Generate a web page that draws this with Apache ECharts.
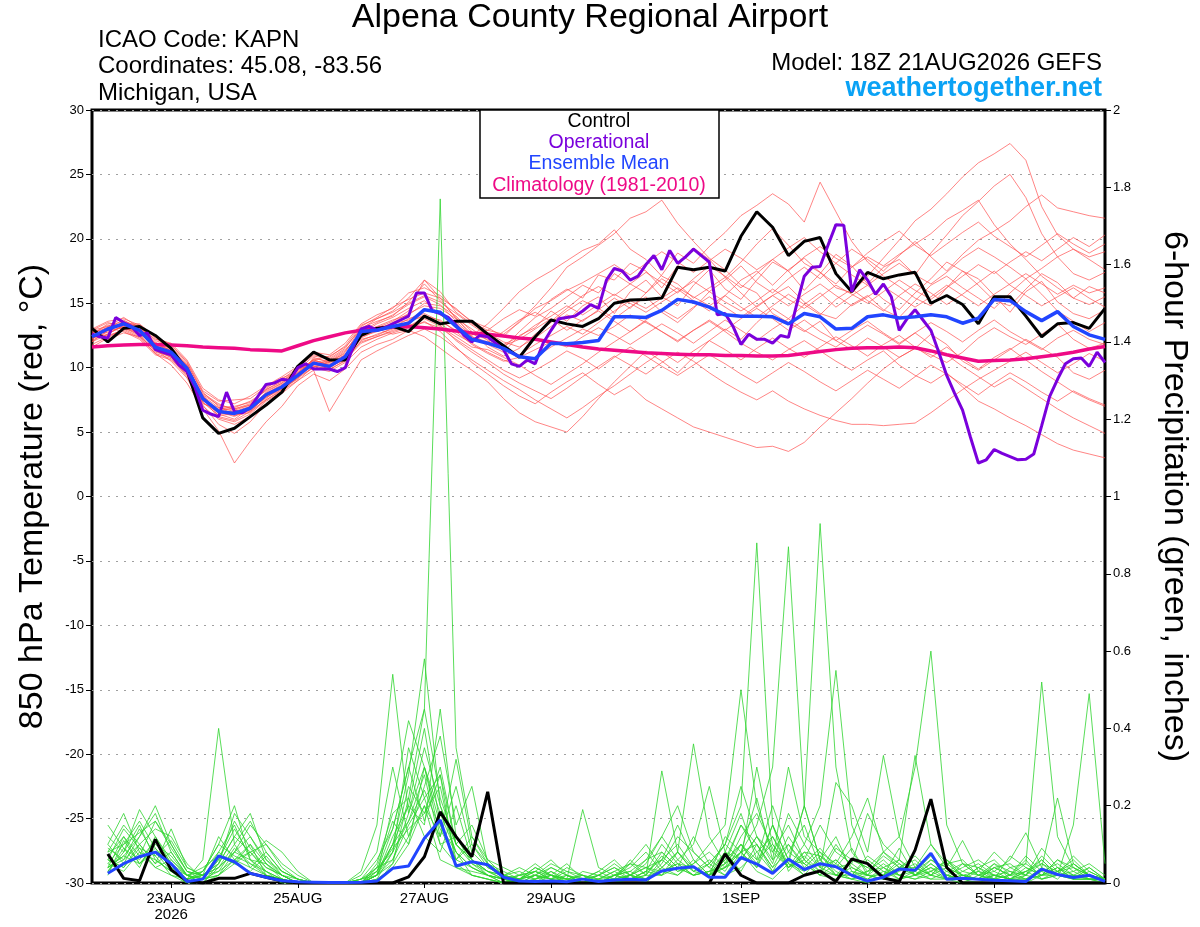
<!DOCTYPE html>
<html lang="en">
<head>
    <meta charset="UTF-8">
    <title>Alpena County Regional Airport - GEFS</title>
    <script src="https://cdn.jsdelivr.net/npm/echarts@6.0.0/dist/echarts.min.js"></script>
    <style>
        body { margin: 0; background: #fff; }
    </style>
</head>
<body>
    <div id="chart" style="width: 1200px; height: 927px;"></div>

    <script>
        // x axis is forecast hours from 18Z 21AUG2026
        var tickHours = [30, 78, 126, 174, 246, 294, 342];
        var tickLabels = ['23AUG\n2026', '25AUG', '27AUG', '29AUG', '1SEP', '3SEP', '5SEP'];

        // 850 hPa temperature, 6-hourly (hour 0..384)
        var climatology = [11.6, 11.7, 11.75, 11.8, 11.8, 11.75, 11.7, 11.6, 11.55, 11.5, 11.4, 11.35, 11.3, 11.7, 12.1, 12.4, 12.7,
            12.9, 13.05, 13.15, 13.2, 13.1, 13.0, 12.85, 12.7, 12.6, 12.45, 12.3, 12.2, 12.0, 11.8, 11.6, 11.45,
            11.35, 11.25, 11.15, 11.1, 11.05, 11.0, 11.0, 10.95, 10.95, 10.9, 10.9, 10.95, 11.1, 11.25, 11.4, 11.5,
            11.55, 11.55, 11.6, 11.55, 11.3, 11.0, 10.75, 10.5, 10.55, 10.6, 10.7, 10.85, 11.0, 11.2, 11.45, 11.65];
        var controlTemp = [13.05, 12.0, 13.05, 13.2, 12.5, 11.5, 9.8, 6.1, 4.9, 5.3, 6.2, 7.1, 8.1, 10.1, 11.2, 10.6, 10.6,
            12.5, 13.05, 13.2, 12.8, 14.0, 13.4, 13.6, 13.6, 12.6, 11.7, 10.8, 12.4, 13.7, 13.4, 13.2, 13.8,
            15.0, 15.25, 15.3, 15.4, 17.8, 17.6, 17.8, 17.5, 20.2, 22.1, 20.9, 18.7, 19.8, 20.1, 17.3, 15.9,
            17.4, 16.9, 17.2, 17.4, 15.0, 15.6, 14.9, 13.4, 15.5, 15.5, 14.0, 12.4, 13.4, 13.5, 13.05, 14.6];
        var meanTemp = [12.4, 13.0, 13.4, 12.9, 11.6, 11.2, 9.95, 7.6, 6.6, 6.45, 6.85, 7.9, 8.5, 9.4, 10.35, 10.1, 10.85,
            12.8, 12.9, 13.2, 13.45, 14.5, 14.3, 13.2, 12.2, 11.9, 11.5, 10.85, 10.7, 11.9, 11.85, 11.95, 12.1,
            13.95, 13.95, 13.9, 14.45, 15.3, 15.1, 14.7, 14.1, 14.0, 14.0, 13.95, 13.4, 14.2, 13.95, 13.0, 13.05,
            13.95, 14.1, 13.85, 13.95, 14.1, 13.95, 13.45, 13.85, 15.3, 15.2, 14.35, 13.65, 14.35, 13.2, 12.55, 12.2];
        // operational run is 3-hourly (hour 0..384)
        var operationalTemp = [12.6, 12.4, 12.3, 13.9, 13.5, 13.2, 12.5, 12.7, 11.4, 11.2, 11.0, 10.2, 9.7, 8.5, 6.7, 6.4,
            6.2, 8.1, 6.6, 6.5, 6.9, 7.8, 8.7, 8.8, 9.1, 9.0, 10.0, 10.3, 9.9, 9.9, 9.9, 9.7,
            10.0, 11.6, 13.0, 13.2, 12.9, 13.1, 13.4, 13.7, 14.0, 15.8, 15.8, 14.4, 14.2, 13.9, 13.3, 12.5,
            12.0, 12.5, 12.4, 11.9, 11.4, 10.3, 10.1, 10.6, 10.3, 11.9, 12.9, 13.8, 13.9, 14.0, 14.4, 14.9,
            14.6, 16.8, 17.7, 17.5, 16.8, 17.1, 18.0, 18.7, 17.6, 19.1, 18.1, 18.6, 19.2, 18.7, 18.2, 14.1,
            14.2, 13.2, 11.8, 12.6, 12.2, 12.2, 11.9, 12.5, 12.35, 14.8, 17.1, 17.8, 17.85, 19.5, 21.1, 21.05,
            15.9, 17.6, 16.8, 15.7, 16.5, 15.5, 12.9, 13.8, 14.5, 13.7, 12.9, 11.2, 9.4, 8.0, 6.7, 4.6,
            2.6, 2.85, 3.65, 3.35, 3.1, 2.85, 2.9, 3.3, 5.5, 7.75, 9.1, 10.3, 10.7, 10.75, 10.1, 11.2, 10.4];

        // ensemble members, temperature (red)
        var t01 = [12.1, 12.8, 13.6, 13.2, 12.0, 11.0, 9.6, 7.2, 6.8, 6.9, 7.4, 8.2, 8.8, 9.9, 10.2, 10.6, 11.4,
            12.6, 13.4, 13.9, 14.6, 15.2, 14.1, 13.2, 12.6, 12.9, 13.8, 14.5, 14.0, 15.3, 16.1, 15.4, 17.2,
            16.8, 18.1, 17.5, 16.2, 17.9, 19.3, 18.4, 17.0, 18.2, 19.6, 20.8, 19.5, 18.1, 17.4, 16.2, 15.8,
            17.1, 18.5, 19.9, 21.4, 22.3, 23.5, 24.8, 25.9, 26.6, 27.4, 26.1, 22.5, 20.3, 19.2, 18.6, 19.0];
        var t02 = [12.6, 13.3, 13.1, 12.5, 11.3, 10.8, 9.4, 7.9, 6.2, 5.9, 6.6, 7.8, 8.4, 9.1, 10.8, 10.4, 11.2,
            13.1, 13.6, 14.0, 15.1, 16.5, 15.2, 13.9, 12.4, 11.8, 11.2, 12.5, 13.1, 14.4, 13.6, 14.8, 15.5,
            14.2, 15.9, 16.8, 15.5, 14.8, 16.4, 17.6, 16.1, 15.3, 16.8, 18.2, 17.5, 16.0, 17.3, 18.8, 17.9,
            16.5, 17.8, 18.4, 17.2, 18.9, 20.3, 21.8, 22.9, 24.1, 25.0, 23.2, 20.4, 18.6, 17.3, 16.8, 17.4];
        var t03 = [12.9, 13.5, 13.2, 12.6, 11.8, 11.6, 10.3, 8.1, 7.0, 6.3, 6.5, 7.6, 8.6, 9.6, 10.5, 9.8, 10.6,
            12.3, 12.9, 13.5, 14.2, 14.8, 14.6, 13.8, 13.0, 12.1, 11.5, 12.8, 13.9, 14.6, 15.5, 16.4, 15.8,
            17.3, 16.5, 15.8, 17.2, 18.9, 18.1, 19.4, 20.5, 21.8, 22.6, 23.5, 22.7, 21.3, 24.4, 22.1, 19.8,
            18.2, 17.1, 16.3, 15.4, 14.8, 16.2, 17.5, 16.9, 15.6, 14.3, 15.9, 16.7, 15.1, 14.2, 13.8, 14.5];
        var t04 = [11.8, 12.4, 13.0, 13.1, 12.2, 11.9, 10.6, 8.4, 7.5, 7.2, 7.8, 8.6, 9.3, 10.1, 11.2, 11.0, 11.9,
            13.4, 14.1, 14.6, 15.8, 16.2, 15.6, 14.5, 13.6, 13.1, 12.4, 13.6, 14.8, 16.2, 17.8, 18.6, 19.5,
            20.4, 21.6, 22.1, 23.0, 21.2, 19.8, 18.5, 17.6, 16.4, 15.8, 14.2, 13.5, 12.8, 13.6, 12.1, 11.4,
            12.3, 11.6, 10.8, 11.5, 12.6, 11.8, 10.5, 9.8, 10.6, 11.4, 12.2, 11.5, 10.8, 9.6, 9.1, 9.8];
        var t05 = [12.3, 12.6, 13.3, 12.8, 11.4, 10.5, 9.2, 7.0, 6.0, 5.6, 6.2, 7.4, 8.1, 9.3, 10.0, 10.5, 11.1,
            12.2, 12.5, 13.1, 13.8, 14.2, 13.6, 12.9, 12.5, 13.4, 14.6, 15.9, 16.8, 17.5, 18.3, 19.1, 19.6,
            20.7, 19.2, 18.4, 17.1, 16.5, 15.4, 16.2, 17.0, 15.8, 14.7, 15.6, 16.3, 15.1, 14.2, 13.8, 14.9,
            15.6, 14.5, 13.9, 15.2, 16.4, 17.1, 16.2, 15.4, 14.6, 15.8, 16.9, 15.7, 14.4, 13.6, 12.8, 13.5];
        var t06 = [12.0, 12.9, 13.5, 13.0, 11.9, 11.3, 10.1, 7.8, 6.4, 6.0, 6.9, 8.0, 8.7, 9.5, 10.3, 10.0, 10.7,
            12.0, 12.4, 12.8, 13.2, 13.9, 13.4, 12.6, 11.9, 11.2, 10.6, 10.1, 10.8, 11.6, 12.3, 13.0, 12.5,
            13.2, 14.1, 13.5, 12.8, 12.1, 12.9, 13.6, 12.8, 11.9, 11.2, 10.6, 11.4, 12.1, 11.3, 10.5, 9.8,
            10.6, 11.3, 10.2, 9.4, 8.8, 9.6, 8.5, 7.4, 6.8, 6.1, 5.5, 4.8, 4.1, 3.6, 3.3, 3.0];
        var t07 = [12.7, 13.1, 12.8, 12.2, 11.0, 10.6, 9.5, 7.4, 6.9, 7.0, 7.3, 8.3, 9.0, 9.8, 10.6, 10.2, 10.9,
            12.5, 13.0, 12.6, 12.9, 13.6, 12.8, 11.6, 10.4, 9.5, 8.6, 7.8, 7.2, 8.1, 8.9, 9.6, 8.7,
            7.9, 8.6, 7.5, 6.8, 6.1, 5.4, 5.0, 4.6, 4.2, 3.8, 3.9, 3.5, 4.2, 5.4, 6.5, 7.6,
            8.8, 9.9, 10.8, 11.5, 11.0, 10.4, 11.2, 12.3, 13.1, 12.4, 11.8, 12.6, 13.4, 12.2, 11.5, 11.9];
        var t08 = [12.5, 12.2, 12.7, 12.4, 11.1, 10.2, 8.8, 6.8, 5.1, 2.6, 4.3, 5.8, 7.0, 8.6, 9.5, 9.0, 9.9,
            11.2, 11.8, 12.2, 12.9, 12.4, 11.5, 10.6, 9.8, 8.9, 7.6, 6.5, 5.8, 5.4, 5.0, 6.2, 7.6,
            8.9, 10.1, 11.3, 10.5, 9.6, 10.8, 12.1, 13.0, 12.2, 13.5, 14.6, 13.8, 14.9, 15.8, 14.7, 15.6,
            16.4, 15.3, 14.5, 15.8, 16.9, 18.2, 17.5, 16.4, 15.2, 14.8, 16.1, 17.3, 16.6, 15.4, 14.9, 15.5];
        var t09 = [12.2, 13.0, 13.4, 13.4, 12.4, 11.8, 10.4, 8.0, 7.2, 6.7, 7.1, 8.4, 9.2, 9.7, 10.6, 10.9, 11.6,
            13.0, 13.8, 14.4, 15.4, 16.8, 15.9, 14.3, 13.4, 12.7, 12.0, 11.6, 12.3, 13.2, 14.1, 13.6, 14.5,
            15.4, 14.6, 15.8, 16.9, 16.1, 15.2, 14.4, 15.6, 16.8, 17.5, 16.4, 17.6, 18.5, 17.4, 16.5, 17.8,
            18.6, 17.9, 18.8, 19.6, 20.4, 21.5, 22.2, 23.0, 21.1, 19.6, 18.4, 17.1, 16.2, 15.4, 16.3, 15.8];
        var t10 = [12.4, 13.2, 13.9, 13.1, 11.7, 11.4, 10.2, 7.7, 6.5, 6.6, 6.7, 7.7, 8.3, 9.2, 10.4, 10.3, 10.9,
            12.7, 13.2, 13.7, 14.1, 15.0, 14.8, 14.0, 12.8, 11.6, 10.9, 11.5, 12.6, 13.5, 14.4, 15.2, 14.6,
            13.8, 14.7, 15.5, 14.3, 13.5, 14.6, 15.9, 16.8, 17.9, 16.6, 15.8, 16.9, 17.8, 16.9, 18.1, 19.2,
            18.4, 17.5, 18.7, 19.8, 18.6, 17.5, 18.8, 19.9, 20.6, 21.4, 22.5, 23.4, 22.4, 22.1, 21.8, 21.6];
        var t11 = [12.8, 12.7, 13.2, 12.7, 11.5, 11.0, 9.9, 7.5, 6.7, 6.5, 6.8, 7.9, 8.6, 9.5, 10.1, 10.0, 10.8,
            12.9, 13.1, 13.4, 13.7, 14.5, 14.3, 13.5, 12.2, 11.9, 11.4, 11.0, 11.8, 12.5, 13.2, 12.6, 13.5,
            14.4, 15.2, 14.6, 15.4, 16.2, 15.5, 14.8, 15.6, 14.7, 13.9, 14.8, 15.7, 14.9, 14.1, 15.3, 16.1,
            15.2, 14.4, 15.6, 16.5, 15.8, 14.9, 15.7, 16.6, 17.5, 16.4, 15.6, 14.8, 15.5, 16.2, 15.4, 14.7];
        var t12 = [11.6, 12.3, 13.0, 12.9, 11.6, 11.2, 9.7, 7.3, 6.3, 6.4, 6.6, 7.5, 8.2, 9.0, 10.1, 9.9, 10.5,
            12.1, 12.6, 13.0, 13.6, 14.0, 13.7, 12.8, 11.8, 11.1, 10.5, 10.8, 11.4, 12.0, 11.6, 12.4, 13.1,
            12.5, 11.8, 12.6, 13.4, 12.7, 11.9, 12.8, 13.7, 12.9, 12.1, 13.0, 13.8, 12.9, 12.2, 11.6, 12.5,
            13.3, 12.6, 11.8, 12.7, 13.5, 12.8, 12.0, 12.9, 13.7, 12.8, 12.1, 11.4, 12.3, 12.9, 12.2, 11.8];
        var t13 = [13.0, 13.6, 13.8, 13.3, 12.3, 11.5, 10.0, 7.9, 7.1, 6.8, 7.2, 8.3, 8.9, 9.8, 10.9, 10.7, 11.5,
            13.2, 13.9, 14.7, 15.3, 15.8, 15.4, 14.6, 13.5, 12.9, 12.6, 13.5, 14.6, 15.2, 16.0, 16.6, 17.3,
            18.0, 17.2, 18.1, 19.0, 18.2, 17.4, 18.3, 19.2, 18.5, 17.6, 18.4, 19.3, 20.1, 19.0, 18.1, 17.2,
            16.4, 17.3, 18.1, 17.2, 16.5, 17.4, 18.5, 19.3, 18.6, 17.8, 16.9, 17.7, 18.6, 19.2, 18.4, 17.6];
        var t14 = [12.3, 12.9, 13.1, 12.6, 11.2, 10.9, 9.8, 7.6, 6.1, 5.8, 6.4, 7.5, 8.3, 9.3, 10.2, 10.1, 10.6,
            11.9, 12.4, 12.9, 13.3, 13.5, 13.1, 12.2, 11.4, 10.6, 9.8, 9.2, 9.8, 10.5, 11.3, 10.7, 9.9,
            10.8, 11.6, 10.9, 10.1, 9.4, 10.2, 11.0, 10.3, 9.5, 8.8, 9.6, 10.4, 9.7, 8.9, 8.2, 9.0,
            9.8, 9.1, 8.4, 9.3, 10.2, 9.5, 8.7, 7.9, 8.8, 9.6, 8.9, 8.1, 7.4, 8.2, 7.6, 7.1];
        var t15 = [12.6, 13.4, 13.5, 12.9, 11.5, 11.1, 10.0, 7.6, 6.6, 6.2, 6.9, 8.1, 8.8, 9.6, 10.5, 10.4, 11.0,
            12.4, 12.8, 13.2, 13.5, 14.1, 13.3, 12.1, 11.2, 10.4, 9.5, 8.8, 8.2, 7.6, 8.4, 9.3, 10.1,
            10.9, 10.2, 9.5, 10.4, 11.2, 10.5, 9.6, 8.8, 8.1, 7.5, 8.2, 7.4, 6.8, 6.3, 5.9, 5.6,
            5.6, 5.5, 5.6, 5.7, 6.5, 7.4, 8.3, 9.1, 9.8, 10.5, 11.2, 10.4, 9.6, 10.3, 11.1, 10.5];
        var t16 = [12.2, 13.1, 13.7, 13.0, 11.8, 11.5, 10.1, 7.8, 6.9, 6.6, 7.0, 8.0, 8.6, 9.4, 10.7, 10.5, 11.3,
            12.8, 13.5, 14.1, 14.9, 15.5, 14.9, 13.6, 12.4, 12.0, 12.8, 13.7, 14.3, 13.6, 14.6, 15.6, 16.3,
            15.6, 16.5, 17.4, 16.6, 15.8, 16.9, 17.9, 17.1, 16.2, 17.3, 18.4, 17.5, 18.6, 19.4, 18.5, 17.8,
            18.9, 19.8, 20.6, 19.5, 18.7, 19.6, 20.5, 21.3, 20.2, 19.4, 18.6, 19.5, 20.4, 19.6, 18.9, 19.6];
        var t17 = [12.5, 12.5, 12.9, 12.3, 11.1, 10.7, 9.3, 7.1, 5.6, 4.9, 5.8, 7.2, 8.0, 9.0, 9.8, 6.6, 8.6,
            10.6, 11.3, 11.9, 12.5, 13.0, 12.4, 11.5, 10.6, 9.8, 9.0, 8.3, 7.5, 6.8, 6.1, 6.9, 7.8,
            8.6, 9.5, 10.4, 11.2, 10.4, 11.3, 12.1, 11.4, 10.6, 11.5, 12.3, 11.5, 10.8, 11.6, 12.4, 11.7,
            10.9, 11.8, 12.5, 11.6, 10.8, 11.6, 10.7, 9.9, 10.8, 11.5, 10.6, 9.7, 8.9, 8.1, 7.5, 7.0];
        var t18 = [12.0, 12.6, 13.3, 13.3, 12.1, 11.7, 10.5, 8.2, 7.4, 7.5, 7.6, 8.5, 9.1, 10.0, 11.0, 10.8, 11.7,
            13.3, 13.8, 14.3, 15.0, 15.6, 15.1, 14.2, 13.3, 12.5, 11.8, 12.4, 13.3, 14.0, 14.8, 14.1, 14.9,
            15.7, 15.0, 14.3, 15.1, 15.9, 16.7, 15.9, 15.1, 14.4, 15.2, 16.1, 15.3, 14.6, 15.5, 16.4, 15.7,
            15.0, 15.9, 16.8, 16.0, 15.3, 16.2, 17.1, 18.0, 17.3, 18.2, 19.0, 18.3, 19.2, 20.1, 19.4, 20.3];
        var t19 = [12.9, 13.2, 13.0, 12.4, 11.4, 10.8, 9.6, 7.3, 6.5, 6.3, 6.7, 7.7, 8.4, 9.2, 10.0, 9.7, 10.4,
            11.6, 12.2, 12.7, 13.1, 13.8, 13.2, 12.4, 11.6, 11.4, 10.8, 10.2, 9.4, 8.7, 9.5, 10.3, 11.2,
            12.0, 12.8, 13.6, 12.8, 12.0, 12.9, 13.7, 12.9, 13.8, 14.6, 13.8, 12.9, 13.7, 12.8, 12.1, 12.9,
            13.6, 12.7, 11.9, 12.7, 11.8, 11.0, 10.1, 9.3, 8.5, 9.2, 8.4, 7.6, 6.8, 6.1, 5.5, 4.9];
        var t20 = [12.4, 12.9, 13.4, 13.1, 11.9, 11.3, 10.2, 7.7, 6.7, 6.8, 7.1, 8.0, 8.5, 9.6, 10.6, 10.2, 11.0,
            12.6, 13.1, 13.6, 14.4, 16.8, 15.4, 13.8, 12.6, 12.2, 11.7, 12.2, 13.0, 13.8, 12.9, 13.7, 14.4,
            13.6, 12.8, 13.7, 14.5, 13.8, 14.7, 15.5, 14.7, 13.9, 14.8, 15.6, 14.8, 15.7, 16.5, 15.6, 14.8,
            15.5, 16.3, 15.5, 14.7, 15.5, 16.4, 15.6, 14.8, 15.7, 16.5, 17.3, 16.5, 15.7, 16.4, 15.8, 16.2];

        // 6-hour precipitation, hour 6..384
        var controlPrecip = [.075, .012, .006, .113, .034, .005, 0, .012, .012, .025, .015, .005,
            0, 0, 0, 0, 0, 0, 0, .016, .068, .184, .12, .068, .236, 0,
            0, 0, 0, 0, 0, 0, 0, 0, 0, 0, 0, 0, 0,
            .075, .02, 0, 0, 0, .02, .031, .004, .062, .05, .013, .004, .085, .217, .04,
            0, 0, 0, 0, 0, 0, 0, 0, 0, 0];
        var meanPrecip = [.025, .05, .068, .08, .05, .004, .01, .07, .055, .025, .015, .006,
            .003, .002, .001, .001, .002, .005, .038, .044, .116, .163, .044, .055, .047,
            .015, .005, .004, .005, .003, .01, .004, .008, .01, .008, .031, .038, .042,
            .015, .015, .066, .049, .025, .062, .035, .05, .042, .02, .005, .015, .036,
            .033, .077, .01, .012, .01, .007, .006, .004, .036, .022, .014, .02, .004];

        // ensemble members, precipitation (green)
        var p01 = [.12, .08, .15, .06, .03, 0, 0, .05, .12, .08, .03, 0,
            0, 0, 0, 0, 0, 0, .05, .22, .45, 1.77, .35, .12, .06,
            .02, 0, 0, .03, 0, 0, 0, .01, .02, 0, .04, .08, .03,
            .02, .04, .08, .03, .01, .05, .02, .07, .03, .01, 0, .02, .05,
            .02, .06, .03, .01, 0, .02, .03, .01, .04, .02, .01, .01, 0];
        var p02 = [.06, .14, .09, .04, .02, 0, .03, .08, .15, .06, .02, 0,
            0, 0, 0, 0, 0, .02, .1, .28, .58, .2, .1, .06, .03,
            .01, 0, 0, 0, .02, 0, .01, .03, .05, .02, .08, .04, .12,
            .05, .1, .2, .88, .15, .06, .05, .02, .01, .03, .02, .01, .01,
            .03, .01, .01, 0, .02, .05, .01, 0, .02, .06, .03, .01, .01];
        var p03 = [.1, .05, .12, .18, .08, .02, 0, .02, .06, .1, .05, .01,
            0, 0, 0, 0, .03, .15, .54, .18, .3, .12, .25, .08, .04,
            .02, .01, 0, .02, .05, .01, 0, 0, .02, .05, .12, .2, .08,
            .04, .02, .08, .15, .3, .87, .2, .06, .12, .03, .01, .03, .01,
            .02, .04, .01, .02, .01, .01, 0, .02, .01, .03, .05, .02, .01];
        var p04 = [.03, .08, .19, .12, .05, .01, .06, .4, .1, .04, .02, .01,
            0, 0, 0, 0, 0, .04, .08, .35, .22, .1, .05, .02, .01,
            0, 0, .02, 0, 0, .01, .03, .06, .02, .04, .06, .15, .06,
            .02, .05, .1, .04, .12, .05, .2, .93, .3, .08, .03, .04, .06,
            .02, .05, .02, .01, .01, .02, .01, .01, .02, .04, .01, .01, .01];
        var p05 = [.04, .12, .07, .16, .1, .03, .01, .02, .08, .15, .1, .05,
            .02, 0, 0, 0, 0, .02, .2, .42, .3, .15, .08, .04, .02,
            0, .02, .05, .02, 0, 0, 0, .02, .04, .08, .03, .02, .05,
            .1, .15, .5, .2, .08, .15, .06, .03, .1, .04, .02, .08, .12,
            .3, .6, .15, .05, .02, .01, .02, .03, .01, .02, .01, .01, 0];
        var p06 = [.08, .15, .1, .05, .14, .04, .02, .05, .18, .12, .06, .02,
            .01, 0, 0, 0, .01, .06, .14, .3, .16, .28, .1, .05, .02,
            .01, 0, .01, .04, .02, 0, .02, 0, .01, .03, .1, .05, .02,
            .03, .08, .06, .12, .05, .18, .1, .2, .55, .15, .05, .02, .04,
            .02, .03, .06, .02, .01, .04, .02, .05, .52, .12, .04, .02, .01];
        var p07 = [.05, .1, .16, .09, .04, .01, .02, .12, .06, .08, .04, .02,
            0, 0, 0, 0, 0, .02, .12, .2, .4, .15, .06, .1, .04,
            .02, .01, .03, .06, .02, .01, 0, .02, .05, .1, .04, .08, .36,
            .12, .05, .15, .08, .03, .06, .02, .03, .06, .02, .01, .04, .02,
            .03, .07, .02, .01, .04, .02, .01, .03, .06, .02, .15, .49, .05];
        var p08 = [.15, .09, .04, .12, .06, .02, .01, .03, .09, .05, .02, .01,
            0, 0, 0, 0, 0, .05, .18, .22, .12, .08, .2, .06, .03,
            .02, .04, .02, .01, .03, .02, 0, .01, .06, .02, .29, .08, .04,
            .02, .06, .1, .05, .15, .03, .08, .04, .26, .2, .08, .33, .12,
            .04, .02, .01, .03, .05, .02, .01, .01, .02, .04, .02, .01, .01];
        var p09 = [.04, .07, .12, .2, .1, .03, .02, .06, .14, .07, .11, .08,
            .03, 0, 0, 0, 0, .03, .1, .16, .28, .1, .12, .05, .03,
            .01, 0, .02, .05, .03, .01, .02, .04, .02, .06, .12, .06, .1,
            .25, .08, .03, .1, .04, .12, .06, .15, .08, .05, .18, .1, .06,
            .33, .1, .04, .02, .03, .08, .04, .02, .05, .03, .06, .02, .01];
        var p10 = [.1, .18, .08, .04, .06, .02, 0, .04, .1, .16, .08, .03,
            .01, 0, 0, 0, 0, .01, .08, .25, .18, .3, .1, .15, .06,
            .04, .02, .03, .01, .02, 0, 0, .02, .03, .01, .05, .12, .08,
            .04, .1, .25, .12, .06, .1, .04, .08, .05, .12, .22, .08, .04,
            .04, .1, .05, .06, .02, .03, .06, .13, .04, .22, .05, .02, .01];
        var p11 = [.06, .04, .1, .14, .12, .05, .01, .02, .05, .08, .1, .04,
            .01, 0, 0, 0, .02, .08, .3, .12, .2, .06, .04, .02, .01,
            0, .01, .03, .02, .01, .19, .04, .02, .01, .03, .06, .03, .05,
            .08, .04, .12, .18, .09, .04, .07, .03, .02, .06, .04, .02, .09,
            .02, .05, .02, .04, .06, .03, .01, .02, .07, .03, .04, .01, .01];
        var p12 = [.02, .11, .05, .08, .03, .01, .03, .1, .2, .06, .03, .01,
            0, 0, 0, 0, .01, .04, .06, .18, .35, .2, .08, .04, .02,
            .01, 0, .01, .03, .01, 0, .01, .02, .03, .06, .08, .04, .02,
            .05, .1, .06, .3, .1, .05, .03, .06, .02, .01, .03, .07, .04,
            .06, .02, .04, .11, .03, .01, .07, .04, .02, .03, .01, .04, .01];
        var p13 = [.09, .06, .14, .07, .11, .04, .02, .04, .08, .12, .05, .02,
            0, 0, 0, 0, 0, .03, .14, .3, .45, .22, .1, .06, .02,
            .01, .02, .01, .02, 0, .01, .03, .01, .05, .04, .03, .05, .02,
            .03, .04, .08, .22, .06, .3, .12, .08, .02, .04, .02, .01, .03,
            .05, .02, .06, .01, .04, .06, .02, .01, .03, .05, .02, .02, .01];
        var p14 = [.04, .06, .1, .05, .08, .02, .01, .08, .05, .03, .07, .02,
            0, 0, 0, 0, 0, .02, .05, .12, .25, .38, .15, .25, .05,
            .03, .01, .02, .04, .02, .01, 0, .01, .02, .01, .04, .02, .06,
            .02, .12, .08, .04, .15, .06, .2, .06, .02, .02, .03, .06, .02,
            .01, .03, .01, .05, .02, .04, .02, .06, .01, .02, .02, .01, .01];
        var p15 = [.03, .09, .06, .11, .05, .02, .01, .06, .16, .09, .04, .02,
            0, 0, 0, 0, .01, .02, .1, .2, .15, .45, .12, .06, .03,
            .02, .01, .04, .02, .01, .02, .01, .03, .01, .02, .02, .06, .03,
            .06, .03, .1, .06, .2, .08, .05, .09, .04, .05, .02, .02, .06,
            .03, .06, .04, .02, .01, .05, .03, .02, .06, .02, .03, .05, .02];
        var p16 = [.07, .12, .05, .1, .07, .02, .03, .1, .07, .05, .03, .01,
            0, 0, 0, 0, 0, .04, .16, .1, .3, .18, .08, .02, .01,
            0, .01, .02, .01, 0, .03, .02, .05, .02, .01, .06, .1, .04,
            .02, .06, .15, .1, .04, .08, .15, .04, .06, .02, .07, .04, .01,
            .02, .01, .03, .05, .04, .01, .02, .07, .03, .01, .05, .02, .01];
        var p17 = [.05, .03, .08, .06, .03, .01, .02, .05, .12, .18, .06, .03,
            .01, 0, 0, 0, 0, .01, .04, .1, .2, .12, .32, .1, .05,
            .02, .01, .02, .01, .04, .02, .01, 0, .02, .04, .02, .08, .03,
            .05, .02, .04, .08, .12, .04, .06, .02, .09, .06, .04, .08, .05,
            .02, .04, .02, .01, .03, .02, .01, .04, .02, .06, .04, .02, .01];
        var p18 = [.08, .1, .13, .16, .09, .03, .02, .03, .06, .04, .08, .03,
            .01, 0, 0, 0, 0, .02, .08, .16, .24, .14, .06, .12, .05,
            .02, .03, .01, .02, .01, 0, .02, .04, .01, .02, .07, .03, .04,
            .02, .08, .18, .06, .1, .04, .08, .07, .04, .09, .02, .01, .04,
            .07, .03, .05, .02, .01, .04, .05, .02, .09, .04, .01, .03, .01];
        var p19 = [.04, .07, .05, .09, .04, .02, .04, .07, .05, .1, .02, .01,
            0, 0, 0, 0, .01, .03, .09, .14, .18, .25, .06, .04, .02,
            .01, .02, .03, .01, .01, .02, 0, .02, .01, .03, .02, .04, .02,
            .03, .05, .08, .1, .03, .1, .05, .02, .05, .02, .06, .03, .02,
            .01, .02, .06, .03, .02, .01, .04, .05, .02, .02, .07, .03, .01];
        var p20 = [.06, .04, .09, .07, .02, .01, .02, .04, .08, .06, .05, .02,
            0, 0, 0, 0, 0, .02, .06, .15, .22, .28, .04, .03, .02,
            0, .01, .04, .02, .01, .01, .02, .01, .02, .01, .03, .05, .04,
            .02, .04, .06, .12, .08, .04, .1, .04, .02, .01, .02, .05, .02,
            .04, .02, .01, .02, .01, .02, .01, .03, .05, .02, .02, .04, .01];

        var tempMembers = [t01, t02, t03, t04, t05, t06, t07, t08, t09, t10,
            t11, t12, t13, t14, t15, t16, t17, t18, t19, t20];
        var precipMembers = [p01, p02, p03, p04, p05, p06, p07, p08, p09, p10,
            p11, p12, p13, p14, p15, p16, p17, p18, p19, p20];

        var FONT = '"Liberation Sans", Arial, Helvetica, sans-serif';
        var RED = '#ff4a4a', GREEN = '#2fd42f', PINK = '#ee0a86', PURPLE = '#7a00dc', BLUE = '#2145ff';

        // pair values with forecast hours; step is 6h, 3h for the operational run
        function withHours(values, step, offset) {
            return values.map(function (v, i) { return [offset + i * step, v]; });
        }

        function line(name, data, axis, color, width, z) {
            return {
                type: 'line', name: name, data: data, yAxisIndex: axis,
                symbol: 'none', silent: true, z: z,
                lineStyle: { color: color, width: width }
            };
        }

        var series = [];
        tempMembers.forEach(function (m, k) {
            var s = line('Member ' + (k + 1) + ' temp', withHours(m, 6, 0), 0, RED, 0.8, 2);
            s.lineStyle.opacity = 0.85;
            series.push(s);
        });
        precipMembers.forEach(function (m, k) {
            series.push(line('Member ' + (k + 1) + ' precip', withHours(m, 6, 6), 1, GREEN, 0.8, 3));
        });
        series.push(line('Climatology (1981-2010)', withHours(climatology, 6, 0), 0, PINK, 3.5, 4));
        series.push(line('Control precip', withHours(controlPrecip, 6, 6), 1, '#000', 3, 5));
        series.push(line('Ensemble Mean precip', withHours(meanPrecip, 6, 6), 1, BLUE, 3, 6));
        series.push(line('Control', withHours(controlTemp, 6, 0), 0, '#000', 3, 7));
        series.push(line('Operational', withHours(operationalTemp, 3, 0), 0, PURPLE, 3, 8));
        series.push(line('Ensemble Mean', withHours(meanTemp, 6, 0), 0, BLUE, 3.5, 9));

        function txt(x, y, text, size, color, align, weight) {
            return {
                type: 'text', x: x, y: y, z: 100,
                style: {
                    text: text, fill: color, fontSize: size, fontFamily: FONT,
                    fontWeight: weight || 'normal',
                    align: align, textAlign: align,
                    verticalAlign: 'middle', textVerticalAlign: 'middle'
                }
            };
        }

        var chart = echarts.init(document.getElementById('chart'));
        chart.setOption({
            animation: false,
            backgroundColor: '#fff',
            textStyle: { fontFamily: FONT },
            grid: {
                left: 92, right: 95, top: 110, bottom: 44,
                show: true, borderColor: '#000', borderWidth: 3, backgroundColor: '#fff'
            },
            xAxis: {
                type: 'value', min: 0, max: 384,
                axisLine: { show: false, onZero: false },
                splitLine: { show: false },
                axisTick: { show: true, customValues: tickHours, length: 5, lineStyle: { color: '#000' } },
                axisLabel: {
                    customValues: tickHours, color: '#000', fontSize: 15, lineHeight: 16, margin: 8,
                    formatter: function (v) { return tickLabels[tickHours.indexOf(v)]; }
                }
            },
            yAxis: [{
                type: 'value', min: -30, max: 30, interval: 5, position: 'left',
                name: '850 hPa Temperature (red, °C)', nameLocation: 'middle', nameRotate: 90, nameGap: 42,
                nameTextStyle: { fontSize: 34, color: '#000' },
                axisLine: { show: false },
                axisTick: { show: true, length: 6, lineStyle: { color: '#000' } },
                axisLabel: { color: '#000', fontSize: 13, margin: 8 },
                splitLine: { show: true, lineStyle: { color: '#a0a0a0', width: 1, type: [2, 6] } }
            }, {
                type: 'value', min: 0, max: 2, interval: 0.2, position: 'right',
                name: '6-hour Precipitation (green, inches)', nameLocation: 'middle', nameRotate: -90, nameGap: 52,
                nameTextStyle: { fontSize: 34, color: '#000' },
                axisLine: { show: false },
                axisTick: { show: true, length: 6, lineStyle: { color: '#000' } },
                axisLabel: { color: '#000', fontSize: 13, margin: 8 },
                splitLine: { show: false }
            }],
            graphic: [
                txt(590, 18, 'Alpena County Regional Airport', 34, '#000', 'center'),
                txt(98, 40, 'ICAO Code: KAPN', 24, '#000', 'left'),
                txt(98, 66, 'Coordinates: 45.08, -83.56', 24, '#000', 'left'),
                txt(98, 93, 'Michigan, USA', 24, '#000', 'left'),
                txt(1102, 63, 'Model: 18Z 21AUG2026 GEFS', 24, '#000', 'right'),
                txt(1102, 89, 'weathertogether.net', 27, '#0aa2f5', 'right', 'bold'),
                {
                    type: 'rect', z: 99,
                    shape: { x: 480, y: 110, width: 239, height: 88 },
                    style: { fill: '#fff', stroke: '#000', lineWidth: 1.5 }
                },
                txt(599, 122, 'Control', 19.5, '#000', 'center'),
                txt(599, 143, 'Operational', 19.5, PURPLE, 'center'),
                txt(599, 164, 'Ensemble Mean', 19.5, BLUE, 'center'),
                txt(599, 186, 'Climatology (1981-2010)', 19.5, PINK, 'center')
            ],
            series: series
        });
    </script>
</body>
</html>
